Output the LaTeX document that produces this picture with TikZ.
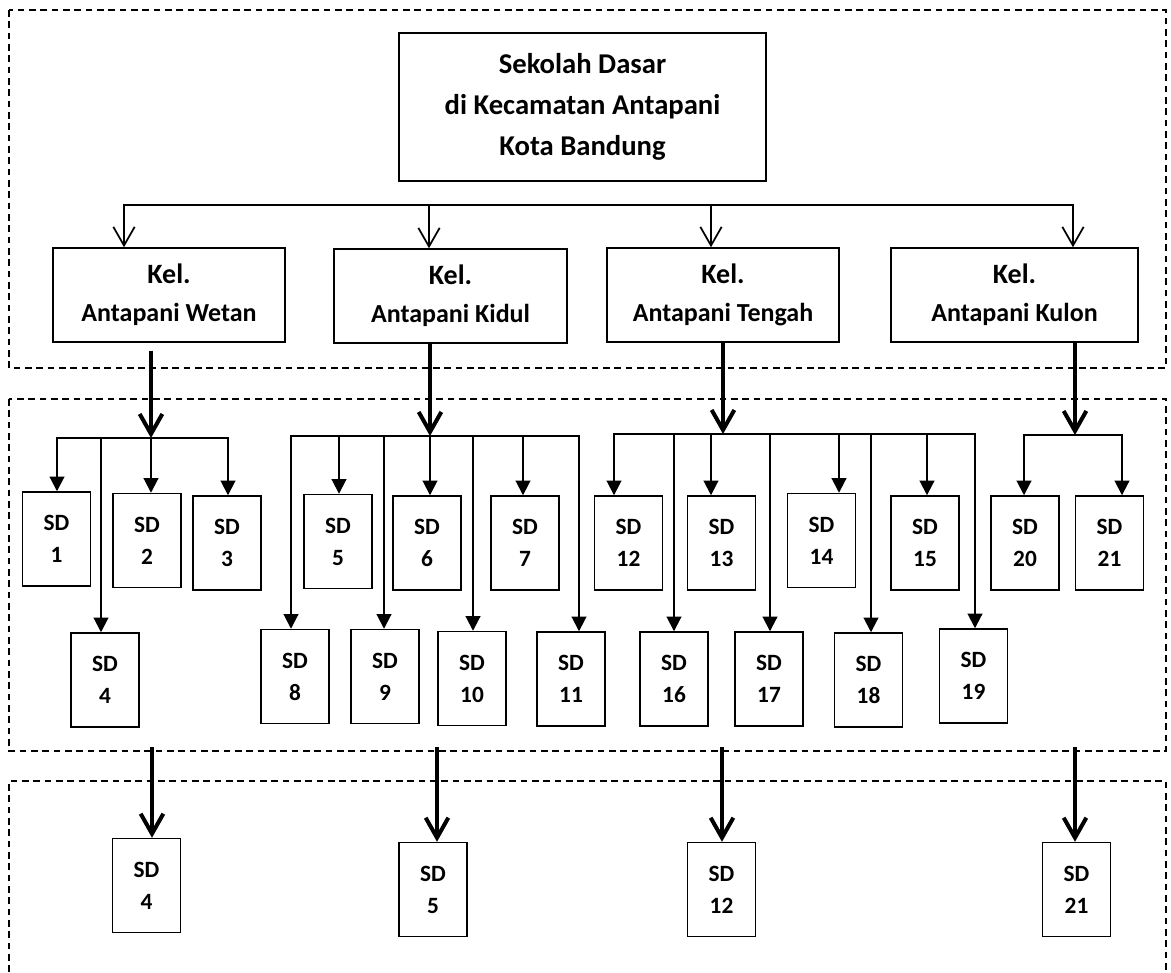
\documentclass[tikz,border=0pt]{standalone}
\usepackage{fontspec}
\setmainfont{Carlito}
\usetikzlibrary{arrows.meta}

\begin{document}
\begin{tikzpicture}[x=0.75pt, y=-0.75pt,
		box/.style={draw, line width=1.1pt, inner sep=0pt, align=center},
		sdbox/.style={box, minimum width=51pt, minimum height=70.5pt, font=\bfseries\fontsize{17.5}{24}\selectfont},
		kelbox/.style={box, minimum width=174pt, minimum height=70.5pt, font=\bfseries\fontsize{21}{28.5}\selectfont},
		area/.style={line width=0.9pt, dash pattern=on 5pt off 3.5pt},
		link/.style={line width=1.3pt, line cap=rect},
		toparrow/.style={line width=1.3pt, -{Straight Barb[length=14pt,width=16pt]}},
		bigarrow/.style={line width=3pt, -{Straight Barb[length=15pt,width=17pt]}},
		sdline/.style={line width=1.5pt, line cap=rect},
		sdarrow/.style={line width=1.5pt, -{Triangle[length=11pt,width=11pt]}}]
		\useasboundingbox (0,0) rectangle (1171,972);

		% three dashed areas
		\draw[area] (9,10) rectangle (1166,368);
		\draw[area] (9,399) rectangle (1166,751);
		\draw[area] (9,972) -- (9,781) -- (1166,781) -- (1166,972);

		% kecamatan and kelurahan
		\node[box, minimum width=275pt, minimum height=111pt, font=\bfseries\fontsize{21.5}{31}\selectfont] (sekolah) at (582.5,107) {Sekolah Dasar\\di Kecamatan Antapani\\Kota Bandung};
		\node[kelbox] (wetan) at (169,295) {Kel.\\{\fontsize{19.5}{28.5}\selectfont Antapani Wetan}};
		\node[kelbox, minimum width=175pt] (kidul) at (450.5,296) {Kel.\\{\fontsize{19.5}{28.5}\selectfont Antapani Kidul}};
		\node[kelbox] (tengah) at (723,295) {Kel.\\{\fontsize{19.5}{28.5}\selectfont Antapani Tengah}};
		\node[kelbox, minimum width=185pt] (kulon) at (1014.5,295) {Kel.\\{\fontsize{19.5}{28.5}\selectfont Antapani Kulon}};

		\coordinate (t1) at (124,205);
		\coordinate (t2) at (429,205);
		\coordinate (t3) at (711,205);
		\coordinate (t4) at (1073,205);
		\draw[link] (t1) -- (t4);
		\draw[toparrow] (t1) -- (t1 |- wetan.north);
		\draw[toparrow] (t2) -- (t2 |- kidul.north);
		\draw[toparrow] (t3) -- (t3 |- tengah.north);
		\draw[toparrow] (t4) -- (t4 |- kulon.north);

		% sekolah dasar per kelurahan
		\node[sdbox] (sd1) at (56.5,539) {SD\\1};
		\node[sdbox] (sd2) at (147,540.5) {SD\\2};
		\node[sdbox] (sd3) at (227,543) {SD\\3};
		\node[sdbox] (sd4) at (105,680) {SD\\4};
		\node[sdbox] (sd5) at (338,541.5) {SD\\5};
		\node[sdbox] (sd6) at (427,543) {SD\\6};
		\node[sdbox] (sd7) at (525,543) {SD\\7};
		\node[sdbox] (sd8) at (295,676.5) {SD\\8};
		\node[sdbox] (sd9) at (385,676.5) {SD\\9};
		\node[sdbox] (sd10) at (472,678.5) {SD\\10};
		\node[sdbox] (sd11) at (571,679) {SD\\11};
		\node[sdbox] (sd12) at (628.5,543) {SD\\12};
		\node[sdbox] (sd13) at (721.5,543) {SD\\13};
		\node[sdbox] (sd14) at (821.5,540.5) {SD\\14};
		\node[sdbox] (sd15) at (925,543) {SD\\15};
		\node[sdbox] (sd16) at (674,679) {SD\\16};
		\node[sdbox] (sd17) at (769,679) {SD\\17};
		\node[sdbox] (sd18) at (868.5,680) {SD\\18};
		\node[sdbox] (sd19) at (973.5,676) {SD\\19};
		\node[sdbox] (sd20) at (1025,543) {SD\\20};
		\node[sdbox] (sd21) at (1109.5,543) {SD\\21};

		% Wetan
		\coordinate (w1) at (57,438);
		\coordinate (w2) at (101,438);
		\coordinate (w3) at (151,438);
		\coordinate (w4) at (228,438);
		\draw[bigarrow] ([yshift=-6pt]wetan.south -| w3) -- (w3);
		\draw[sdline] (w1) -- (w4);
		\draw[sdarrow] (w1) -- (w1 |- sd1.north);
		\draw[sdarrow] (w2) -- (w2 |- sd4.north);
		\draw[sdarrow] (w3) -- (w3 |- sd2.north);
		\draw[sdarrow] (w4) -- (w4 |- sd3.north);

		% Kidul
		\coordinate (k1) at (291,436);
		\coordinate (k2) at (339,436);
		\coordinate (k3) at (384,436);
		\coordinate (k4) at (430,436);
		\coordinate (k5) at (473,436);
		\coordinate (k6) at (523,436);
		\coordinate (k7) at (579,436);
		\draw[bigarrow] (kidul.south -| k4) -- (k4);
		\draw[sdline] (k1) -- (k7);
		\draw[sdarrow] (k1) -- (k1 |- sd8.north);
		\draw[sdarrow] (k2) -- (k2 |- sd5.north);
		\draw[sdarrow] (k3) -- (k3 |- sd9.north);
		\draw[sdarrow] (k4) -- (k4 |- sd6.north);
		\draw[sdarrow] (k5) -- (k5 |- sd10.north);
		\draw[sdarrow] (k6) -- (k6 |- sd7.north);
		\draw[sdarrow] (k7) -- (k7 |- sd11.north);

		% Tengah
		\coordinate (g1) at (614,434);
		\coordinate (g2) at (674,434);
		\coordinate (g3) at (711,434);
		\coordinate (g0) at (723,434);
		\coordinate (g4) at (770,434);
		\coordinate (g5) at (839,434);
		\coordinate (g6) at (871,434);
		\coordinate (g7) at (927,434);
		\coordinate (g8) at (975,434);
		\draw[bigarrow] (tengah.south -| g0) -- (g0);
		\draw[sdline] (g1) -- (g8);
		\draw[sdarrow] (g1) -- (g1 |- sd12.north);
		\draw[sdarrow] (g2) -- (g2 |- sd16.north);
		\draw[sdarrow] (g3) -- (g3 |- sd13.north);
		\draw[sdarrow] (g4) -- (g4 |- sd17.north);
		\draw[sdarrow] (g5) -- (g5 |- sd14.north);
		\draw[sdarrow] (g6) -- (g6 |- sd18.north);
		\draw[sdarrow] (g7) -- (g7 |- sd15.north);
		\draw[sdarrow] (g8) -- (g8 |- sd19.north);

		% Kulon
		\coordinate (l1) at (1024,435);
		\coordinate (l0) at (1075,435);
		\coordinate (l2) at (1122,435);
		\draw[bigarrow] (kulon.south -| l0) -- (l0);
		\draw[sdline] (l1) -- (l2);
		\draw[sdarrow] (l1) -- (l1 |- sd20.north);
		\draw[sdarrow] (l2) -- (l2 |- sd21.north);

		% sampel
		\node[sdbox] (b4) at (146.5,885.5) {SD\\4};
		\node[sdbox] (b5) at (433,889.5) {SD\\5};
		\node[sdbox] (b12) at (721.5,889.5) {SD\\12};
		\node[sdbox] (b21) at (1076.5,889.5) {SD\\21};
		\coordinate (d4) at (152,747);
		\coordinate (d5) at (437,747);
		\coordinate (d12) at (722,747);
		\coordinate (d21) at (1075,747);
		\draw[bigarrow] (d4) -- (d4 |- b4.north);
		\draw[bigarrow] (d5) -- (d5 |- b5.north);
		\draw[bigarrow] (d12) -- (d12 |- b12.north);
		\draw[bigarrow] (d21) -- (d21 |- b21.north);
	\end{tikzpicture}
\end{document}
